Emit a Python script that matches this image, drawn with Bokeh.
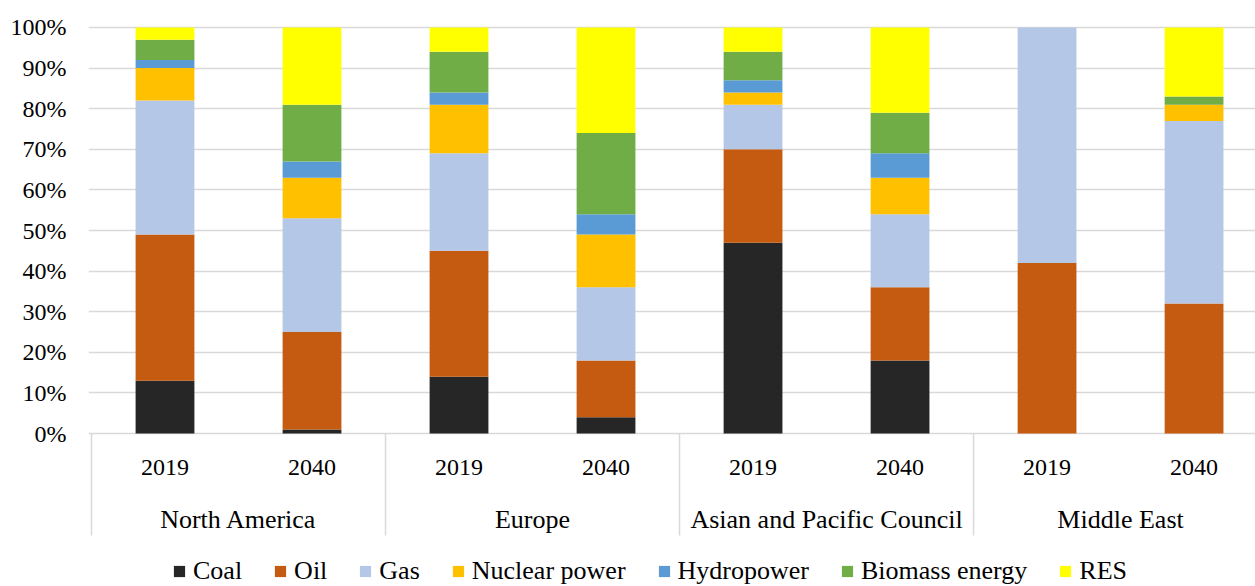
from bokeh.plotting import figure
from bokeh.models import ColumnDataSource, Range1d, FixedTicker, PrintfTickFormatter, Legend, LegendItem
from bokeh.core.properties import value
from bokeh.embed import file_html
from bokeh.resources import INLINE

# ---------------- data ----------------
regions = ["North America", "Europe", "Asian and Pacific Council", "Middle East"]
years = ["2019", "2040"]
fuels = ["Coal", "Oil", "Gas", "Nuclear power", "Hydropower", "Biomass energy", "RES"]
colors = ["#262626", "#C55A11", "#B4C7E7", "#FFC000", "#5B9BD5", "#70AD47", "#FFFF00"]

# order: NA 2019, NA 2040, EU 2019, EU 2040, APC 2019, APC 2040, ME 2019, ME 2040  (percent)
coal    = [13,  1, 14,  4, 47, 18,  0,  0]
oil     = [36, 24, 31, 14, 23, 18, 42, 32]
gas     = [33, 28, 24, 18, 11, 18, 58, 45]
nuclear = [ 8, 10, 12, 13,  3,  9,  0,  4]
hydro   = [ 2,  4,  3,  5,  3,  6,  0,  0]
biomass = [ 5, 14, 10, 20,  7, 10,  0,  2]
res     = [ 3, 19,  6, 26,  6, 21,  0, 17]

y_ticks = [0, 10, 20, 30, 40, 50, 60, 70, 80, 90, 100]

# ---------------- layout ----------------
FONT = "Liberation Serif"
FS_NUM = "24px"
FS_TXT = "26px"
GRID = "#d9d9d9"
n_years = len(years)

x_pos = [g * n_years + j + 0.5 for g in range(len(regions)) for j in range(n_years)]
year_labels = [y for _ in regions for y in years]
group_centers = [g * n_years + n_years / 2 for g in range(len(regions))]
group_bounds = [g * n_years for g in range(len(regions) + 1)]

series = [coal, oil, gas, nuclear, hydro, biomass, res]
data = {"x": x_pos}
for f, s in zip(fuels, series):
    data[f] = s
source = ColumnDataSource(data)

p = figure(width=1255, height=586,
           x_range=Range1d(-0.0204, 7.918), y_range=Range1d(-37.68, 101.97),
           output_backend="svg", toolbar_location=None,
           min_border_left=88, min_border_right=0, min_border_top=19, min_border_bottom=0)
p.outline_line_color = None
p.background_fill_color = "white"
p.xaxis.visible = False
p.xgrid.visible = False

p.ygrid.ticker = FixedTicker(ticks=y_ticks)
p.ygrid.grid_line_color = GRID
p.ygrid.grid_line_width = 1.5

p.yaxis.ticker = FixedTicker(ticks=y_ticks)
p.yaxis.formatter = PrintfTickFormatter(format="%d%%")
p.yaxis.axis_line_color = None
p.yaxis.major_tick_line_color = None
p.yaxis.minor_tick_line_color = None
p.yaxis.major_tick_out = 0
p.yaxis.major_label_standoff = 22
p.yaxis.major_label_text_font = FONT
p.yaxis.major_label_text_font_size = FS_NUM
p.yaxis.major_label_text_color = "black"

renderers = p.vbar_stack(fuels, x="x", width=0.4, color=colors, source=source, line_color=None)

# category separators and labels below the baseline
p.segment(x0=group_bounds, y0=[0] * len(group_bounds), x1=group_bounds, y1=[-25.12] * len(group_bounds),
          line_color=GRID, line_width=1.5)
p.text(x=x_pos, y=[-8.37] * len(x_pos), text=year_labels, text_align="center", text_baseline="middle",
       text_font=value(FONT), text_font_size=FS_NUM, text_color="black")
p.text(x=group_centers, y=[-21.18] * len(group_centers), text=regions, text_align="center",
       text_baseline="middle", text_font=value(FONT), text_font_size=FS_TXT, text_color="black")

legend = Legend(items=[LegendItem(label=f, renderers=[r]) for f, r in zip(fuels, renderers)],
                orientation="horizontal", location=(84, 0),
                glyph_width=14, glyph_height=14, label_standoff=7, spacing=31,
                padding=0, margin=0, border_line_color=None, background_fill_alpha=0,
                label_text_font=FONT, label_text_font_size=FS_TXT, label_text_color="black")
p.add_layout(legend)

open("out.html", "w").write(file_html(p, INLINE))
